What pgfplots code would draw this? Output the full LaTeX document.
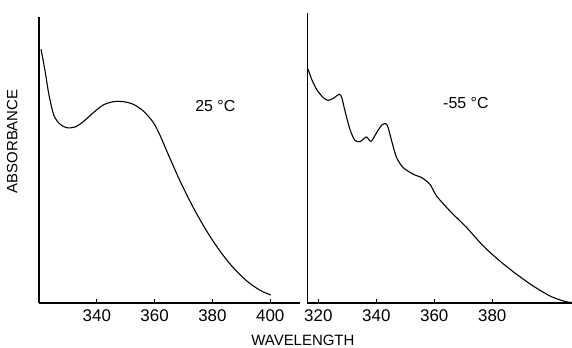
\documentclass[border=0pt]{standalone}
\usepackage{fontspec}
\setmainfont{Liberation Sans}
\usepackage{pgfplots}
\pgfplotsset{compat=1.18}
\newcommand\lab{\fontsize{15}{18}\selectfont}
\newcommand\tlab{\fontsize{17}{20}\selectfont}
\newcommand\tmp{\fontsize{16}{19}\selectfont}
\begin{document}
\begin{tikzpicture}
\useasboundingbox (0,0) rectangle (572bp,348bp);
\pgfplotsset{
  every axis/.append style={
    scale only axis,
    axis x line=bottom, axis y line=left,
    axis line style={-, line width=1.3pt, black},
    ytick=\empty,
    tick align=inside,
    major tick length=4bp,
    tick style={line width=1pt, black},
    ymin=0,
    /pgf/number format/assume math mode=true,
    /pgf/number format/1000 sep={},
    tick label style={font=\tlab},
    xticklabel style={yshift=-3bp},
    label style={font=\lab},
    clip=false,
  }
}
% left panel
\begin{axis}[
  at={(39bp,45bp)}, anchor=south west,
  width=261bp, height=286bp,
  xmin=320, xmax=410.3, ymax=286,
  xtick={340,360,380,400},
  ylabel={ABSORBANCE},
  ylabel style={at={(axis description cs:-0.103,0.565)}, anchor=center, rotate=0},
  xlabel={WAVELENGTH},
  xlabel style={at={(axis description cs:1.011,-0.13)}, anchor=center},
]
\addplot[black, line width=1.1pt, smooth, tension=0.5] coordinates {
(320.7,253.7) (322.1,232) (323.2,212) (324.4,195.3) (325.5,185.3) (327.3,178.7)
(329.6,175.3) (332.5,176) (335.3,181.3) (338.8,190.3) (342.2,198) (345.7,201.3)
(349.2,201.3) (352.6,198.7) (356.1,192) (359.6,180.3) (361.9,167.5) (364.2,152)
(368.8,122) (373.4,95.3) (378,72) (382.6,52) (387.2,35.3) (391.9,22)
(396.5,12.7) (400.2,8)
};
\node[font=\tmp] at (axis cs:381,197) {25 °C};
\end{axis}
% right panel
\begin{axis}[
  at={(307.3bp,45bp)}, anchor=south west,
  width=264.7bp, height=290bp,
  xmin=316.2, xmax=407.5, ymax=290,
  xtick={320,340,360,380},
]
\addplot[black, line width=1.1pt, smooth, tension=0.45] coordinates {
(316.5,233.7) (317.7,223.7) (319.4,213.7) (321.7,205.3) (323.4,202.7) (325.2,204.7)
(327.2,208.7) (328.1,205.3) (329.2,192) (330.9,173.7) (332.6,162.7) (334.4,161.3)
(335.8,164.7) (336.7,166) (337.6,162.7) (338.4,162) (340.1,170.3) (341.9,178)
(343.3,179.3) (344.1,175.3) (345.3,162) (347.0,145.3) (349.3,135.3) (352.8,128.7)
(355.7,125.3) (358.5,118.7) (360.8,107) (365.4,92) (371.2,75.3) (376.9,57)
(382.6,42) (388.4,28.7) (394.1,17) (399.9,7) (404.5,2) (407.5,0.3)
};
\node[font=\tmp] at (axis cs:370.9,200) {-55 °C};
\end{axis}
\end{tikzpicture}
\end{document}
